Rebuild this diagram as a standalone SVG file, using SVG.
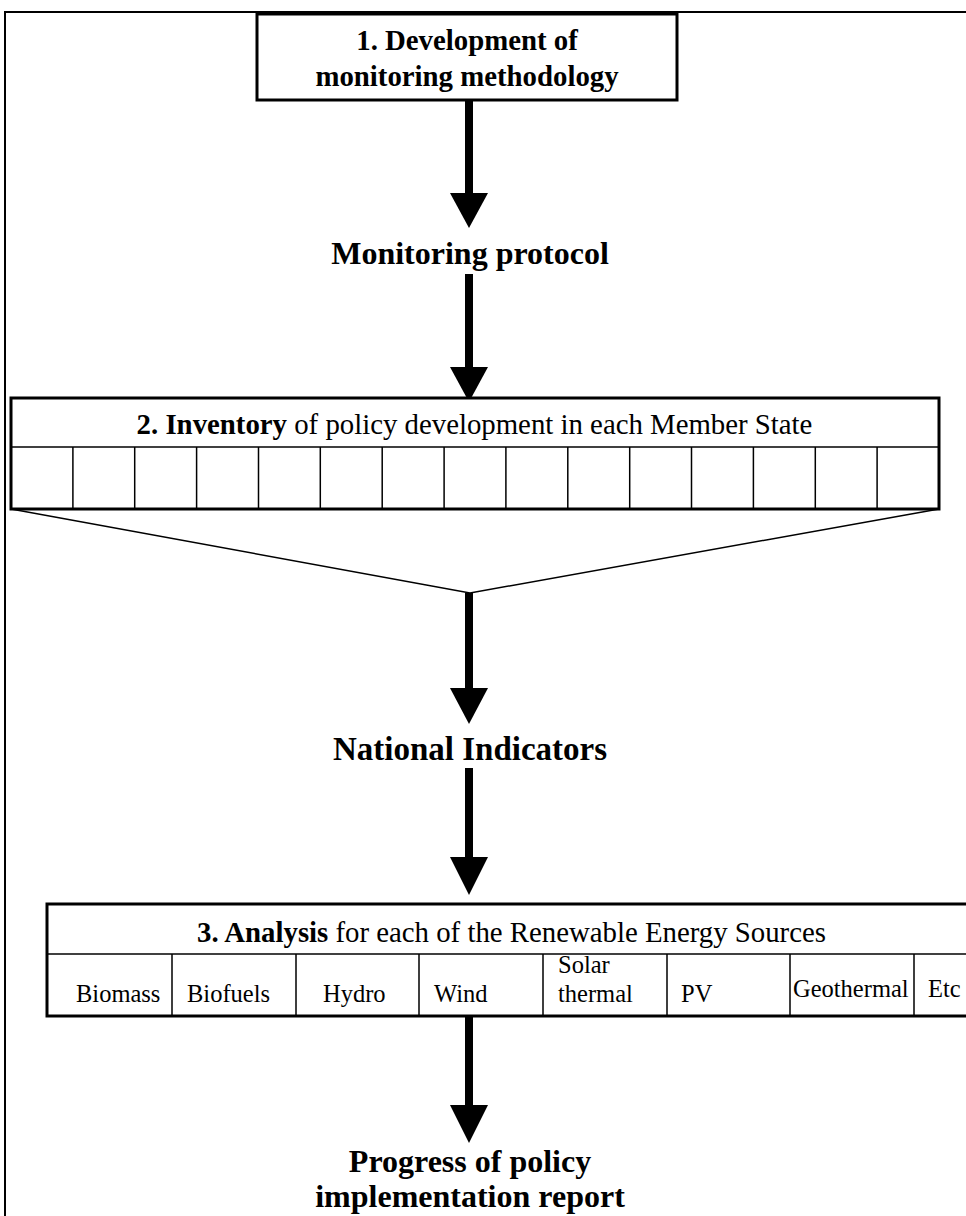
<svg xmlns="http://www.w3.org/2000/svg" width="966" height="1216" viewBox="0 0 966 1216">
<style>
.frame{fill:none;stroke:#000;stroke-width:2}
.box{fill:#fff;stroke:#000;stroke-width:3}
.thin{fill:none;stroke:#000;stroke-width:1.5}
.shaft{fill:#000}
.t{font-family:"Liberation Serif","Times New Roman",serif;fill:#000}
.hb{font-weight:bold;font-size:28.8px;text-anchor:middle}
.big{font-weight:bold;font-size:32px;text-anchor:middle}
.big33{font-weight:bold;font-size:33px;text-anchor:middle}
.mid{font-size:28.8px;text-anchor:middle}
.cell{font-size:24.5px}
.b{font-weight:bold}
</style>
<rect width="966" height="1216" fill="#fff"/>
<path class="frame" d="M5,1216 V12 H966"/>
<g id="connectors">
  <rect class="shaft" x="465" y="100" width="8" height="94"/>
  <polygon points="450,193 488,193 469,228"/>
  <rect class="shaft" x="465" y="274" width="8" height="94"/>
  <polygon points="450,367 488,367 469,402"/>
  <polyline class="thin" points="11,509 470,593 939,509"/>
  <rect class="shaft" x="465" y="593" width="8" height="96"/>
  <polygon points="450,688 488,688 469,724"/>
  <rect class="shaft" x="465" y="768" width="8" height="90"/>
  <polygon points="450,857 488,857 469,895"/>
  <rect class="shaft" x="465" y="1016" width="8" height="90"/>
  <polygon points="450,1105 488,1105 469,1143"/>
</g>
<g id="node1">
  <rect class="box" x="257" y="14" width="420" height="86"/>
  <text class="t hb" x="467" y="50">1. Development of</text>
  <text class="t hb" x="467" y="86">monitoring methodology</text>
</g>
<g id="monitoring-protocol">
  <text class="t big" x="470" y="264">Monitoring protocol</text>
</g>
<g id="node2">
  <rect class="box" x="11" y="398" width="928" height="111"/>
  <line class="thin" x1="11" y1="447" x2="939" y2="447"/>
  <path class="thin" d="M72.9,447V509M134.7,447V509M196.6,447V509M258.5,447V509M320.3,447V509M382.2,447V509M444.1,447V509M505.9,447V509M567.8,447V509M629.7,447V509M691.5,447V509M753.4,447V509M815.3,447V509M877.1,447V509"/>
  <text class="t mid" x="474.5" y="434"><tspan class="b">2. Inventory</tspan> of policy development in each Member State</text>
</g>
<g id="national-indicators">
  <text class="t big33" x="470" y="760">National Indicators</text>
</g>
<g id="node3">
  <rect class="box" x="47" y="904" width="1000" height="112"/>
  <line class="thin" x1="47" y1="954" x2="966" y2="954"/>
  <path class="thin" d="M172,954V1016M296,954V1016M419,954V1016M543,954V1016M667,954V1016M790,954V1016M914,954V1016"/>
  <text class="t mid" x="511.5" y="942"><tspan class="b">3. Analysis</tspan> for each of the Renewable Energy Sources</text>
  <text class="t cell" x="76" y="1002">Biomass</text>
  <text class="t cell" x="187" y="1002">Biofuels</text>
  <text class="t cell" x="323" y="1002">Hydro</text>
  <text class="t cell" x="434" y="1002">Wind</text>
  <text class="t cell" x="558" y="973">Solar</text>
  <text class="t cell" x="558" y="1002">thermal</text>
  <text class="t cell" x="681" y="1002">PV</text>
  <text class="t cell" x="793" y="997">Geothermal</text>
  <text class="t cell" x="928" y="997">Etc</text>
</g>
<g id="report">
  <text class="t big" x="470" y="1172">Progress of policy</text>
  <text class="t big" x="470" y="1207">implementation report</text>
</g>
</svg>
